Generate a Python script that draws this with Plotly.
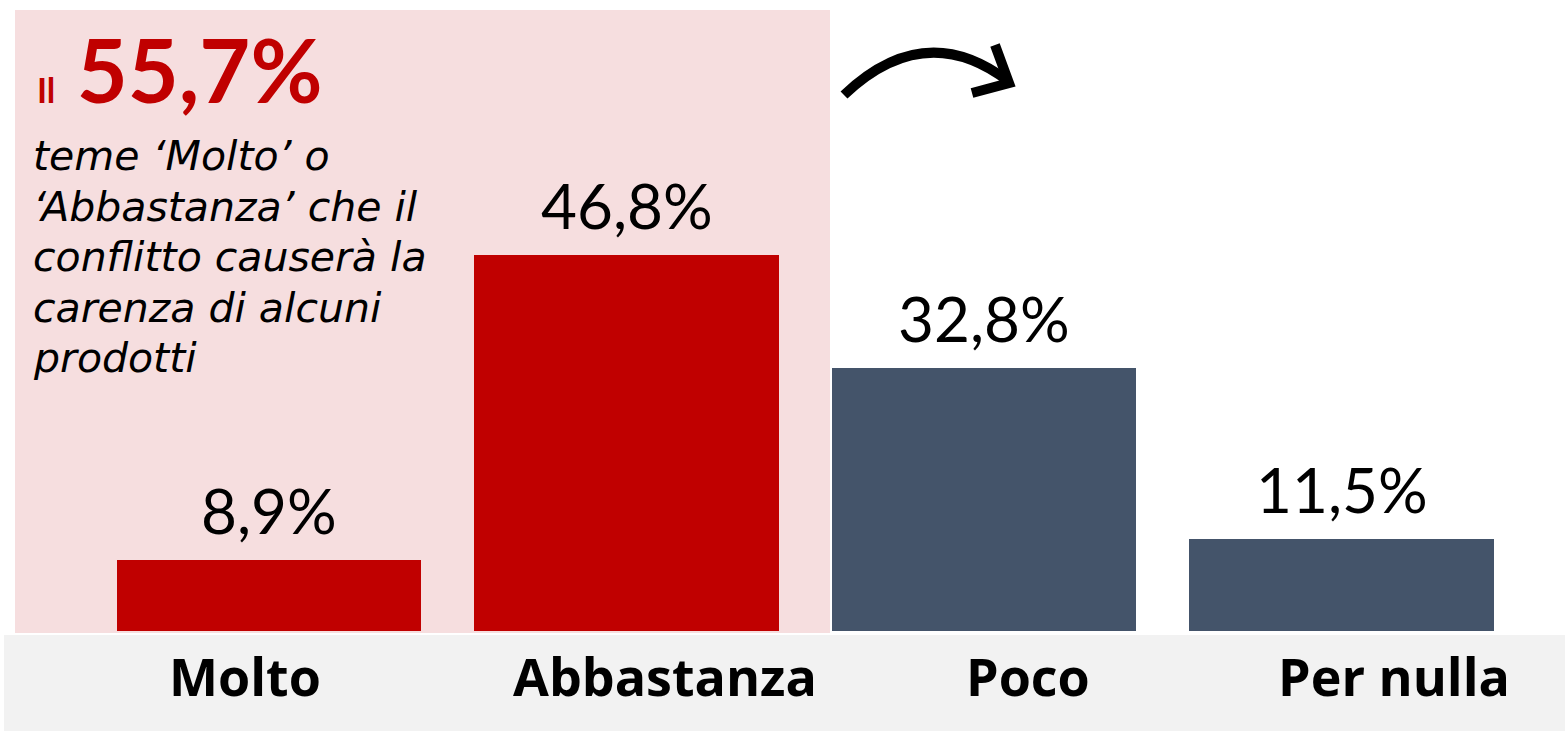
import plotly.graph_objects as go

# Survey answers: how much people fear the conflict will cause shortages
categories = ["Molto", "Abbastanza", "Poco", "Per nulla"]
values = [8.9, 46.8, 32.8, 11.5]
bar_colors = ["#C00000", "#C00000", "#44546A", "#44546A"]
note_lines = ["teme ‘Molto’ o", "‘Abbastanza’ che il", "conflitto causerà la",
              "carenza di alcuni", "prodotti"]

W, H = 1565, 731


def px(x):
    return x / W


def py(y):
    return 1 - y / H


def it_num(v):
    return f"{v:.1f}".replace(".", ",") + "%"


fig = go.Figure()
fig.add_trace(go.Bar(
    x=categories, y=values, width=0.853,
    marker=dict(color=bar_colors, line=dict(width=0)),
    hoverinfo="skip",
))

# value labels above each bar
for c, v in zip(categories, values):
    fig.add_annotation(x=c, y=v, xref="x", yref="y", text=it_num(v),
                       showarrow=False, yanchor="bottom", yshift=11,
                       font=dict(family="Lato", size=62, color="#000000"))

# category labels in the grey band
label_shift = [-24, 38, 44, 52]
for c, s in zip(categories, label_shift):
    fig.add_annotation(x=c, xref="x", y=py(675), yref="paper", xshift=s,
                       text=f"<b>{c}</b>", showarrow=False, yanchor="middle",
                       font=dict(family="Open Sans", size=52, color="#000000"))

# headline: share answering Molto + Abbastanza
share = values[0] + values[1]
fig.add_annotation(
    x=px(35), y=py(124), xref="paper", yref="paper", xanchor="left", yanchor="bottom",
    text=f"<b><span style='font-size:34px'>Il</span> {it_num(share)}</b>",
    showarrow=False, font=dict(family="Lato", size=88, color="#C00000"))

# italic note, one annotation per line
for i, line in enumerate(note_lines):
    base = 172 + i * 50.5
    fig.add_annotation(
        x=px(31), y=py(base + 10), xref="paper", yref="paper",
        xanchor="left", yanchor="bottom", showarrow=False,
        text=f"<i>{line}</i>",
        font=dict(family="DejaVu Sans", size=41, color="#000000"))

shapes = [
    # pink highlight behind the first two bars
    dict(type="rect", xref="paper", yref="paper", x0=px(15), x1=px(830),
         y0=py(633), y1=py(10), fillcolor="#F6DEDF", line=dict(width=0), layer="below"),
    # grey band under the bars
    dict(type="rect", xref="paper", yref="paper", x0=px(4), x1=px(1565),
         y0=py(731), y1=py(635), fillcolor="#F2F2F2", line=dict(width=0), layer="below"),
    # curved arrow
    dict(type="path", xref="paper", yref="paper",
         path=f"M {px(844)},{py(95)} Q {px(925)},{py(18)} {px(1008)},{py(81)}",
         line=dict(color="#000000", width=10)),
    dict(type="path", xref="paper", yref="paper",
         path=f"M {px(995)},{py(45)} L {px(1009)},{py(83)} L {px(972)},{py(93)}",
         line=dict(color="#000000", width=10)),
]

x0 = -269 / 357.5
fig.update_layout(
    width=W, height=H, margin=dict(l=0, r=0, t=0, b=0),
    paper_bgcolor="#FFFFFF", plot_bgcolor="rgba(0,0,0,0)",
    showlegend=False, shapes=shapes,
    xaxis=dict(range=[x0, x0 + W / 357.5], visible=False, fixedrange=True),
    yaxis=dict(range=[-100 / 8.03, 631 / 8.03], visible=False, fixedrange=True),
    bargap=0,
)

fig.write_html("out.html")
